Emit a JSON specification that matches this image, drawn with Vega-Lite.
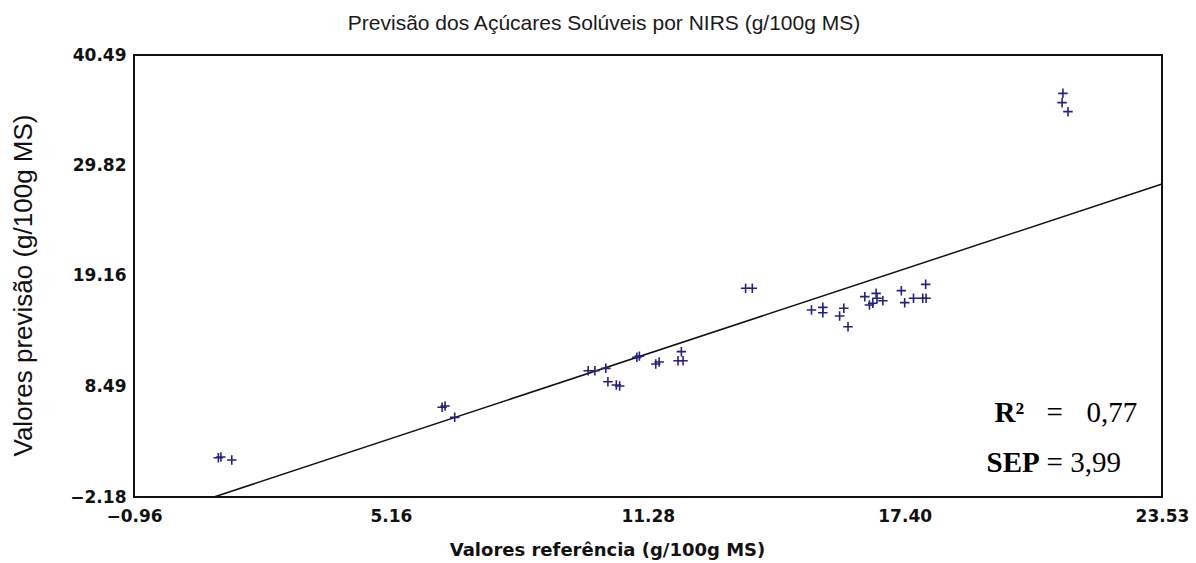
{
  "$schema": "https://vega.github.io/schema/vega-lite/v6.json",
  "autosize": {"type": "none"},
  "width": 1028,
  "height": 442,
  "padding": {"left": 134, "top": 55, "right": 34, "bottom": 66},
  "background": "white",
  "config": {
    "view": {"stroke": "#111111", "strokeWidth": 2},
    "axis": {"grid": false, "domain": false, "ticks": false, "tickSize": 0, "labelColor": "#111111", "titleColor": "#111111"}
  },
  "title": {
    "text": "Previsão dos Açúcares Solúveis por NIRS (g/100g MS)",
    "font": "Liberation Sans",
    "fontSize": 21,
    "fontWeight": "normal",
    "color": "#1a1a1a",
    "anchor": "middle",
    "dx": -44,
    "offset": 12
  },
  "datasets": {
    "points": [
      {"ref": 1.05, "pred": 1.61}, {"ref": 1.11, "pred": 1.68}, {"ref": 1.37, "pred": 1.39},
      {"ref": 6.38, "pred": 6.48}, {"ref": 6.45, "pred": 6.61}, {"ref": 6.68, "pred": 5.51},
      {"ref": 9.86, "pred": 10.01}, {"ref": 10.02, "pred": 10.01}, {"ref": 10.28, "pred": 10.24},
      {"ref": 10.33, "pred": 8.95}, {"ref": 10.53, "pred": 8.63}, {"ref": 10.61, "pred": 8.54},
      {"ref": 11.02, "pred": 11.30}, {"ref": 11.08, "pred": 11.42},
      {"ref": 11.47, "pred": 10.66}, {"ref": 11.55, "pred": 10.85},
      {"ref": 12.00, "pred": 10.98}, {"ref": 12.12, "pred": 10.98}, {"ref": 12.08, "pred": 11.85},
      {"ref": 13.61, "pred": 17.97}, {"ref": 13.77, "pred": 17.97},
      {"ref": 15.18, "pred": 15.87}, {"ref": 15.45, "pred": 16.13}, {"ref": 15.45, "pred": 15.61},
      {"ref": 15.95, "pred": 16.04}, {"ref": 15.85, "pred": 15.29}, {"ref": 16.05, "pred": 14.26},
      {"ref": 16.45, "pred": 17.16}, {"ref": 16.72, "pred": 17.48}, {"ref": 16.56, "pred": 16.36},
      {"ref": 16.64, "pred": 16.52}, {"ref": 16.88, "pred": 16.77}, {"ref": 16.74, "pred": 17.00},
      {"ref": 17.32, "pred": 17.74}, {"ref": 17.40, "pred": 16.58}, {"ref": 17.61, "pred": 17.00},
      {"ref": 17.83, "pred": 17.00}, {"ref": 17.91, "pred": 17.00}, {"ref": 17.90, "pred": 18.35},
      {"ref": 21.17, "pred": 36.79}, {"ref": 21.15, "pred": 35.89}, {"ref": 21.29, "pred": 35.02}
    ],
    "fit": [
      {"ref": 0.945, "pred": -2.18},
      {"ref": 23.53, "pred": 28.04}
    ],
    "boldNotes": [
      {"ref": 19.54, "pred": 5.06, "label": "R²"},
      {"ref": 19.35, "pred": 0.23, "label": "SEP"}
    ],
    "plainNotes": [
      {"ref": 20.78, "pred": 5.06, "label": "="},
      {"ref": 21.73, "pred": 5.06, "label": "0,77"},
      {"ref": 20.78, "pred": 0.23, "label": "= 3,99"}
    ]
  },
  "encoding": {
    "x": {
      "field": "ref", "type": "quantitative",
      "scale": {"domain": [-0.96, 23.53], "nice": false, "zero": false},
      "axis": {
        "values": [-0.96, 5.16, 11.28, 17.4, 23.53],
        "format": ".2f",
        "labelFont": "DejaVu Sans", "labelFontWeight": "bold", "labelFontSize": 17,
        "labelPadding": 11, "labelFlush": false, "labelOverlap": false,
        "title": "Valores referência (g/100g MS)",
        "titleFont": "DejaVu Sans", "titleFontWeight": "bold", "titleFontSize": 18,
        "titleX": 473, "titleY": 53, "titleBaseline": "middle", "titleAlign": "center", "titleAnchor": null
      }
    },
    "y": {
      "field": "pred", "type": "quantitative",
      "scale": {"domain": [-2.18, 40.49], "nice": false, "zero": false},
      "axis": {
        "values": [-2.18, 8.49, 19.16, 29.82, 40.49],
        "format": ".2f",
        "labelFont": "DejaVu Sans", "labelFontWeight": "bold", "labelFontSize": 17,
        "labelPadding": 8, "labelFlush": false, "labelOverlap": false,
        "title": "Valores previsão (g/100g MS)",
        "titleFont": "Liberation Sans", "titleFontWeight": "normal", "titleFontSize": 26,
        "titleX": -111, "titleY": 230, "titleBaseline": "middle", "titleAlign": "center", "titleAngle": -90
      }
    }
  },
  "layer": [
    {
      "data": {"name": "fit"},
      "mark": {"type": "line", "color": "#111111", "strokeWidth": 1.5}
    },
    {
      "data": {"name": "points"},
      "mark": {"type": "point", "shape": "M-1,0H1M0,-1V1", "size": 90, "filled": false, "stroke": "#23237e", "strokeWidth": 1.6, "opacity": 1}
    },
    {
      "data": {"name": "boldNotes"},
      "mark": {"type": "text", "font": "Liberation Serif", "fontWeight": "bold", "fontSize": 29, "align": "left", "baseline": "alphabetic", "color": "#000000"},
      "encoding": {"text": {"field": "label"}}
    },
    {
      "data": {"name": "plainNotes"},
      "mark": {"type": "text", "font": "Liberation Serif", "fontWeight": "normal", "fontSize": 29, "align": "left", "baseline": "alphabetic", "color": "#000000"},
      "encoding": {"text": {"field": "label"}}
    }
  ]
}
